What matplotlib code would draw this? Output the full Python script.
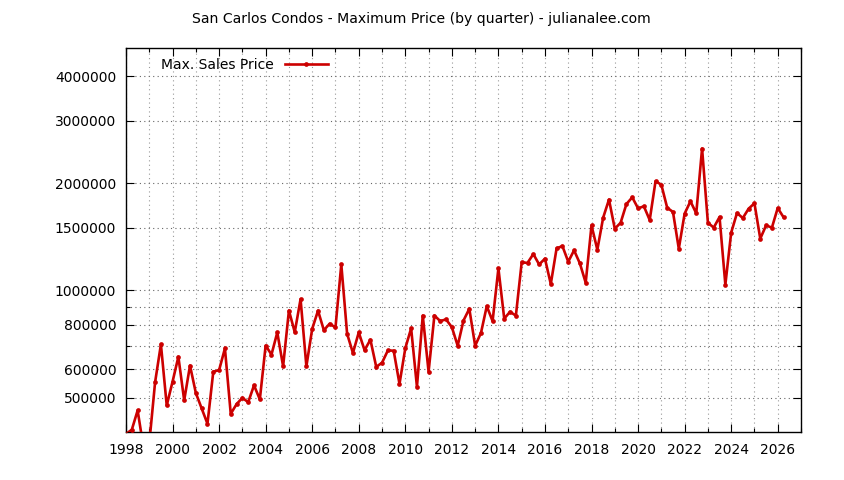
import matplotlib

matplotlib.use("Agg")
import matplotlib.pyplot as plt
import numpy as np
from matplotlib.ticker import FixedLocator, FuncFormatter, NullFormatter

# quarterly maximum condo sale price, starting Q1 1998
first_year = 1998
max_price = [
    395000, 406000, 460000, 362000,      # 1998
    372000, 552000, 705000, 475000,      # 1999
    554000, 651000, 491000, 615000,      # 2000
    515000, 466000, 422000, 591000,      # 2001
    597000, 687000, 450000, 479000,      # 2002
    499000, 485000, 541000, 494000,      # 2003
    700000, 660000, 762000, 612000,      # 2004
    878000, 763000, 945000, 612000,      # 2005
    780000, 877000, 773000, 806000,      # 2006
    787000, 1183000, 755000, 667000,     # 2007
    762000, 679000, 727000, 610000,      # 2008
    626000, 678000, 677000, 546000,      # 2009
    688000, 782000, 536000, 850000,      # 2010
    591000, 850000, 820000, 829000,      # 2011
    788000, 699000, 823000, 888000,      # 2012
    699000, 759000, 903000, 820000,      # 2013
    1153000, 833000, 871000, 849000,     # 2014
    1199000, 1195000, 1265000, 1183000,  # 2015
    1228000, 1042000, 1313000, 1332000,  # 2016
    1204000, 1296000, 1191000, 1051000,  # 2017
    1523000, 1301000, 1601000, 1800000,  # 2018
    1491000, 1549000, 1749000, 1826000,  # 2019
    1701000, 1723000, 1577000, 2026000,  # 2020
    1982000, 1708000, 1661000, 1310000,  # 2021
    1643000, 1780000, 1647000, 2504000,  # 2022
    1550000, 1501000, 1608000, 1038000,  # 2023
    1453000, 1650000, 1597000, 1697000,  # 2024
    1757000, 1398000, 1523000, 1501000,  # 2025
    1704000, 1605000,                    # 2026
]

y_major = [500000, 600000, 800000, 1000000, 1500000, 2000000, 3000000, 4000000]
y_minor = [700000, 900000]
x_major = list(range(1998, 2027, 2))
x_minor = list(range(1999, 2028, 2))

title = "San Carlos Condos - Maximum Price (by quarter) - julianalee.com"
series_label = "Max. Sales Price"

W, H = 844, 480
plt.rcParams["font.family"] = "DejaVu Sans"
plt.rcParams["font.size"] = 9.5

fig = plt.figure(figsize=(W / 100, H / 100), dpi=100)
ax = fig.add_axes([126 / W, 1 - 432 / H, (801 - 126) / W, (432 - 48) / H])

quarters = first_year + np.arange(len(max_price)) / 4.0
line_color = "#cc0000"
ax.plot(quarters, max_price, color=line_color, lw=1.9, marker="o",
        markersize=3.4, markeredgewidth=0, label=series_label,
        clip_on=True, zorder=3)

ax.set_yscale("log")
ax.set_ylim(400000, 4800000)
ax.set_xlim(1998, 2027)

ax.yaxis.set_major_locator(FixedLocator(y_major))
ax.yaxis.set_minor_locator(FixedLocator(y_minor))
ax.yaxis.set_major_formatter(FuncFormatter(lambda v, _: "%d" % round(v)))
ax.yaxis.set_minor_formatter(NullFormatter())
ax.xaxis.set_major_locator(FixedLocator(x_major))
ax.xaxis.set_minor_locator(FixedLocator(x_minor))

ax.tick_params(which="both", direction="in", top=True, right=True,
               width=0.8, color="black", labelsize=10)
ax.tick_params(which="major", length=6)
ax.tick_params(which="minor", length=3)
ax.tick_params(axis="y", pad=7)
ax.tick_params(axis="x", pad=8)

ax.grid(True, which="both", axis="y", color="#666666", lw=0.8,
        linestyle=(0, (1, 3)))
ax.grid(True, which="both", axis="x", color="#999999", lw=0.8,
        linestyle=(0, (1, 3)))
ax.set_axisbelow(True)
for sp in ax.spines.values():
    sp.set_linewidth(1.0)
    sp.set_color("black")

ax.legend(loc="center left", bbox_to_anchor=(161 / W, 1 - 65 / H),
          bbox_transform=fig.transFigure, frameon=False, markerfirst=False,
          numpoints=1, handlelength=3.1, handletextpad=0.8, borderpad=0,
          borderaxespad=0, fontsize=10)

fig.text(421 / W, 1 - 19 / H, title, ha="center", va="center", fontsize=10.1)

fig.savefig("out.png", dpi=100)
